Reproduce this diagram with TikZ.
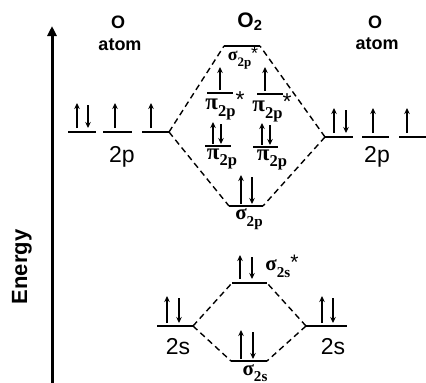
\documentclass[tikz,border=0pt]{standalone}
\usepackage{fontspec}
\setmainfont{Liberation Sans}
\newfontfamily\moFont{Liberation Serif}
\usetikzlibrary{arrows.meta}

% orbital label: greek letter with lowered subscript
\newcommand{\mo}[2]{{\moFont\bfseries #1\raisebox{-0.3em}{\scalebox{0.72}{#2}}}}
\newcommand{\anti}{\raisebox{0.08em}{\normalfont *}}

\begin{document}
\begin{tikzpicture}[x=1pt, y=-1pt, >=Stealth,
    level/.style={line width=1.8pt},
    link/.style={line width=1.4pt, dash pattern=on 6pt off 4pt},
    elec/.style={-{Stealth[length=6pt,width=5.5pt]}, line width=1.4pt},
    head/.style={font=\bfseries\fontsize{18}{18}\selectfont},
    shell/.style={font=\fontsize{23}{23}\selectfont},
    orbname/.style={font=\fontsize{23}{23}\selectfont, inner sep=0pt}]
\useasboundingbox (0,0) rectangle (426,383);

% Energy axis
\coordinate (Ebot) at (52,383);
\coordinate (Etop) at (52,26);
\draw[line width=3pt, -{Triangle[length=10pt,width=9pt]}] (Ebot) -- (Etop);
\node[rotate=90, font=\bfseries\fontsize{22}{22}\selectfont] (energy) at (22,267) {Energy};

% Headings
\node[head] (OL) at (118,22) {O};
\node[head] (atomL) at (120,45) {atom};
\node[font=\bfseries\fontsize{21}{21}\selectfont] (O2) at (250,22) {O\textsubscript{2}};
\node[head] (OR) at (375,22) {O};
\node[head] (atomR) at (377,44) {atom};

% Atomic 2p levels
\draw[level] (68,132) -- (96,132);
\draw[level] (103,132) -- (132,132);
\draw[level] (142,132) coordinate (pL) -- (169,132) coordinate (pLr);
\draw[level] (325,137) coordinate (pRl) -- (353,137);
\draw[level] (362,137) -- (389,137);
\draw[level] (399,137) -- (426,137);
\node[shell] (p2L) at (122,157) {2p};
\node[shell] (p2R) at (377,157) {2p};

% Molecular levels from 2p
\draw[level] (224,46) coordinate (sPsl) -- (260,46) coordinate (sPsr);
\draw[level] (207,93) -- (233,93);
\draw[level] (257,94) -- (283,94);
\draw[level] (205,146) -- (231,146);
\draw[level] (253,147) -- (278,147);
\draw[level] (229,206) coordinate (sPl) -- (263,206) coordinate (sPr);

% Atomic 2s levels and molecular levels from 2s
\draw[level] (157,326) -- (193,326) coordinate (sLr);
\draw[level] (306,326) coordinate (sRl) -- (347,326);
\draw[level] (232,283) coordinate (sSsl) -- (267,283) coordinate (sSsr);
\draw[level] (231,361) coordinate (sSl) -- (267,361) coordinate (sSr);
\node[shell] (s2L) at (178,347) {2s};
\node[shell] (s2R) at (333,347) {2s};

% Correlation lines
\draw[link] (pLr) -- (sPsl);
\draw[link] (pLr) -- (sPl);
\draw[link] (pRl) -- (sPsr);
\draw[link] (pRl) -- (sPr);
\draw[link] (sLr) -- (sSsl);
\draw[link] (sLr) -- (sSl);
\draw[link] (sRl) -- (sSsr);
\draw[link] (sRl) -- (sSr);

% Orbital labels
\node[orbname, font=\fontsize{18}{18}\selectfont] (lsPs) at (243,58) {\mo{σ}{2p}\anti};
\node[orbname] (lpiAs) at (225,106) {\mo{π}{2p}\anti};
\node[orbname] (lpiBs) at (272,108) {\mo{π}{2p}\anti};
\node[orbname] (lpiA) at (222,159) {\mo{π}{2p}};
\node[orbname] (lpiB) at (272,160) {\mo{π}{2p}};
\node[orbname, font=\fontsize{21}{21}\selectfont] (lsP) at (249,219) {\mo{σ}{2p}};
\node[orbname, font=\fontsize{21}{21}\selectfont] (lsSs) at (282,266) {\mo{σ}{2s}\anti};
\node[orbname, font=\fontsize{21}{21}\selectfont, anchor=north] (lsS) at (255,364) {\mo{σ}{2s}};

% Electrons: paired (up, down)
\foreach \xu/\xd/\yt/\yb in {77/88/103/128, 334/346/108/133, 213/221/122/144,
    262/270/123/145, 241/252/175/204, 240/252/255/279, 167/179/296/323,
    322/333/296/323, 241/253/330/359}{
  \draw[elec] (\xu,\yb) -- (\xu,\yt);
  \draw[elec] (\xd,\yt+2) -- (\xd,\yb);
}
% Electrons: single (up)
\foreach \xu/\yt/\yb in {115/103/128, 151/103/128, 373/108/133, 407/108/133,
    220/67/90, 265/67/91}{
  \draw[elec] (\xu,\yb) -- (\xu,\yt);
}
\end{tikzpicture}
\end{document}
